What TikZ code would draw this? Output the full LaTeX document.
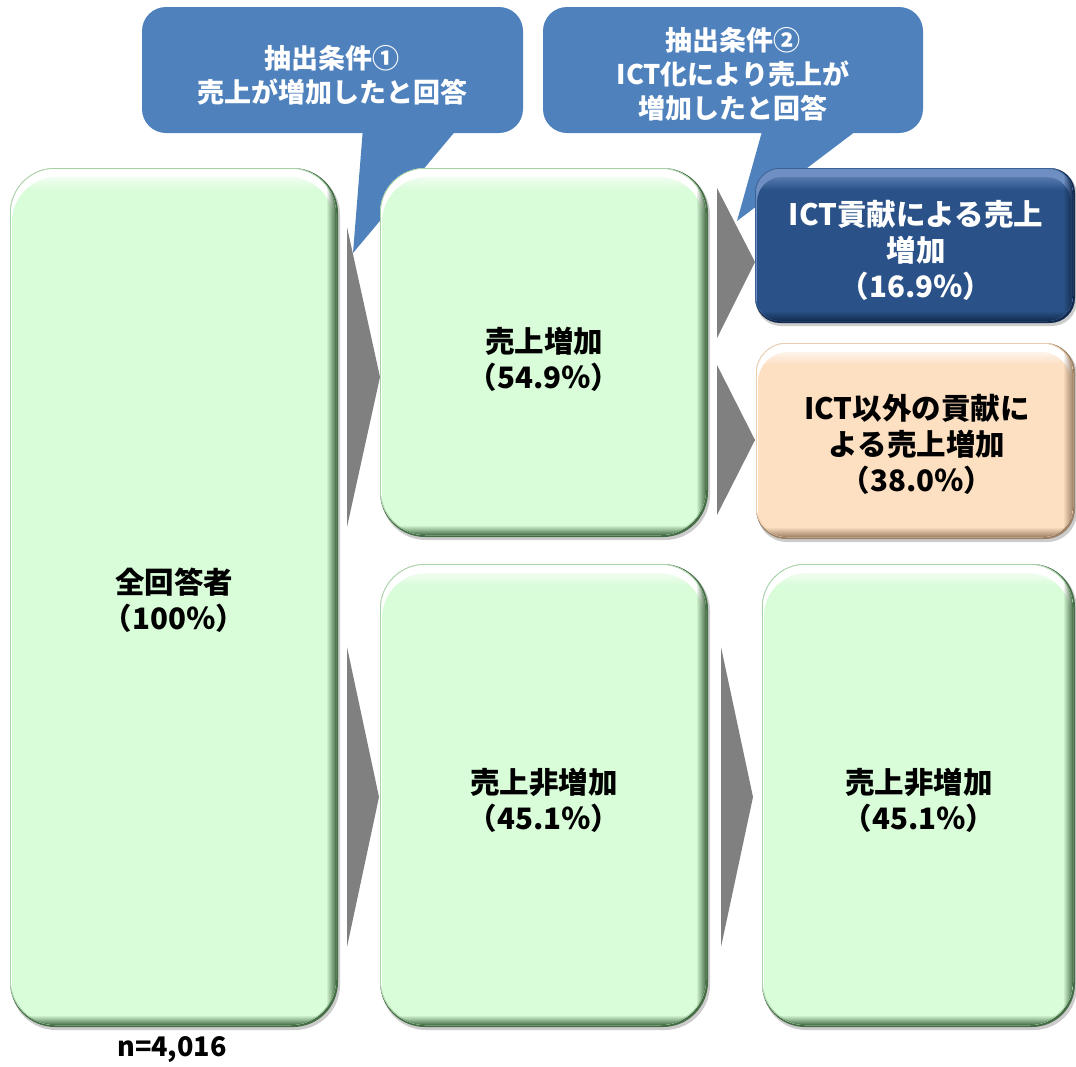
\documentclass[tikz,border=0pt]{standalone}
\usepackage{fontspec}
\setmainfont{Noto Sans CJK JP}
\usetikzlibrary{fadings}
\definecolor{callblue}{HTML}{4F81BD}
\definecolor{arrgray}{HTML}{808080}
\definecolor{gface}{HTML}{D9FCD9}
\definecolor{gdark}{HTML}{466E46}
\definecolor{gedge}{HTML}{A6D3A6}
\definecolor{ghi}{HTML}{FFFFFF}
\definecolor{bface}{HTML}{2A5288}
\definecolor{bdark}{HTML}{122A4E}
\definecolor{bedge}{HTML}{3A6298}
\definecolor{bhi}{HTML}{6F8FC2}
\definecolor{pface}{HTML}{FDDFC1}
\definecolor{pdark}{HTML}{9E8266}
\definecolor{pedge}{HTML}{EBCCAC}
\definecolor{phi}{HTML}{FFFFFF}
\tikzfading[name=fright, left color=transparent!100, right color=transparent!0]
\tikzfading[name=fdown, top color=transparent!100, bottom color=transparent!0]
\tikzfading[name=fup, top color=transparent!0, bottom color=transparent!100]
\newcommand\bevbox[6]{%
  \fill[black,opacity=0.2,rounded corners=#5pt] (#1+1,#2+2) rectangle (#3+2,#4+3);
  \fill[#6dark,rounded corners=#5pt] (#1,#2) rectangle (#3,#4);
  \begin{scope}
    \clip[rounded corners=#5pt] (#1,#2) rectangle (#3-2,#4-2);
    \fill[#6hi] (#1,#2) rectangle (#3,#4);
    \fill[#6face,rounded corners=#5pt] (#1+2,#2+9) rectangle (#3-4,#4+30);
    \fill[#6hi,path fading=fup,opacity=.7] (#1,#2+8) rectangle (#3,#2+22);
    \draw[#6edge,line width=1.5pt,rounded corners=#5pt] (#1,#2) rectangle (#3-2,#4-2);
    \fill[#6dark,path fading=fright] (#3-12,#2) rectangle (#3-2,#4);
    \fill[#6dark,path fading=fdown] (#1,#4-12) rectangle (#3,#4-2);
  \end{scope}
}
\tikzset{
  boxtext/.style={align=center,font=\bfseries\fontsize{29.5}{36}\selectfont,inner sep=0pt},
  calltext/.style={align=center,font=\bfseries\fontsize{27}{34}\selectfont,inner sep=0pt,text=white},
  arrowshape/.style={fill=arrgray},
  callshape/.style={fill=callblue}
}
\begin{document}
\begin{tikzpicture}[x=1pt,y=-1pt]
\useasboundingbox (0,0) rectangle (1076,1066);
% gray arrows
\fill[arrowshape] (347,227) -- (380,377) -- (347,527) -- cycle;
\fill[arrowshape] (347,647) -- (379,797) -- (347,947) -- cycle;
\fill[arrowshape] (717,188) -- (755,262) -- (717,338) -- cycle;
\fill[arrowshape] (717,365) -- (755,440) -- (717,515) -- cycle;
\fill[arrowshape] (721,647) -- (753,797) -- (721,947) -- cycle;
% callouts
\fill[callshape,rounded corners=24pt] (142,7) rectangle (523,133);
\fill[callshape] (363,128) -- (353,253) -- (458,128) -- cycle;
\fill[callshape,rounded corners=24pt] (543,7) rectangle (923,133);
\fill[callshape] (763,128) -- (737,221) -- (860,128) -- cycle;
% boxes
\bevbox{10}{168}{338}{1027}{45}{g}
\bevbox{380}{168}{708}{537}{45}{g}
\bevbox{380}{564}{708}{1027}{45}{g}
\bevbox{755}{168}{1075}{323}{25}{b}
\bevbox{756}{343}{1075}{539}{30}{p}
\bevbox{762}{564}{1075}{1027}{43}{g}
% texts
\node[calltext] (c1) at (332,75) {抽出条件①\\売上が増加したと回答};
\node[calltext] (c2) at (733,74) {抽出条件②\\ICT化により売上が\\増加したと回答};
\node[boxtext] (n1) at (174,600) {全回答者\\（100％）};
\node[boxtext] (n2) at (544,359) {売上増加\\（54.9％）};
\node[boxtext] (n3) at (544,800) {売上非増加\\（45.1％）};
\node[boxtext,text=white] (n4) at (916,250) {ICT貢献による売上\\増加\\（16.9％）};
\node[boxtext] (n5) at (917,444) {ICT以外の貢献に\\よる売上増加\\（38.0％）};
\node[boxtext] (n6) at (919,800) {売上非増加\\（45.1％）};
\node[font=\bfseries\fontsize{27}{30}\selectfont,inner sep=0pt] (nn) at (172,1050) {n=4,016};
\end{tikzpicture}
\end{document}
